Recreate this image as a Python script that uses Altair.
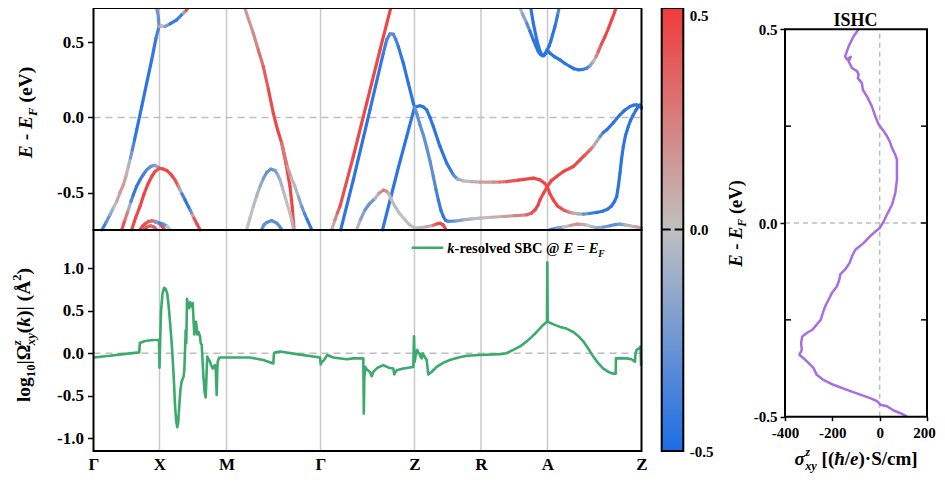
import altair as alt
import pandas as pd

FONT = "Liberation Serif"
W, H = 929, 468

# ---------------- data ----------------
K_TICKS = [0, 66, 133, 227, 321, 387.5, 454, 548]
K_NAMES = ["Γ", "X", "M", "Γ", "Z", "R", "A", "Z"]

# band structure: (k, E - E_F in eV, spin expectation)
BANDS = {
    "A": [(8.5, -0.749, -0.45), (12.5, -0.70, -0.35), (16.5, -0.649, -0.2), (20, -0.60, -0.05),
          (23.2, -0.56, 0.08), (26.5, -0.50, 0.12), (29.8, -0.449, 0.15), (32.5, -0.39, 0.1),
          (34.8, -0.327, 0.02), (37, -0.27, -0.15), (38.8, -0.216, -0.3), (41, -0.15, -0.42),
          (43.2, -0.082, -0.45), (48.2, 0.073, -0.45), (53.2, 0.229, -0.45), (58.2, 0.384, -0.45),
          (62.5, 0.529, -0.42), (65.5, 0.607, -0.35)],
    "A_up": [(65.5, 0.607, -0.32), (64.8, 0.673, -0.28), (63.5, 0.72, -0.25), (62.2, 0.76, -0.22)],
    "A_right": [(65.5, 0.607, 0.15), (68.2, 0.611, 0.1), (71.5, 0.607, -0.05), (76.5, 0.624, -0.4),
                (83.2, 0.651, -0.45), (89.8, 0.696, -0.35), (91.8, 0.708, 0.1), (93.2, 0.718, 0.4),
                (96.5, 0.76, 0.45)],
    "B": [(28.2, -0.749, 0.45), (31.5, -0.682, 0.4), (34.8, -0.616, 0.1), (37.5, -0.56, -0.3),
          (39.8, -0.516, -0.4), (43, -0.46, -0.45), (46.5, -0.416, -0.42), (50, -0.378, -0.38),
          (53.2, -0.349, -0.35), (56.5, -0.33, -0.3), (59.8, -0.32, -0.27), (62.5, -0.322, -0.2),
          (65.5, -0.333, -0.1)],
    "C": [(38.2, -0.749, 0.45), (42, -0.67, 0.45), (46.5, -0.593, 0.45), (50.5, -0.51, 0.45),
          (54.8, -0.438, 0.45), (58.5, -0.39, 0.45), (61.5, -0.36, 0.45), (66, -0.338, 0.4),
          (69.5, -0.343, 0.45), (73.2, -0.353, 0.45), (77.5, -0.38, 0.45), (81.5, -0.416, 0.45),
          (84.5, -0.455, 0.35), (86.5, -0.482, 0.1), (88.5, -0.51, -0.3), (91.5, -0.549, -0.45),
          (96.5, -0.616, -0.45), (99, -0.65, -0.1), (100.5, -0.671, 0.35), (103.5, -0.71, 0.45),
          (106.5, -0.749, 0.45)],
    "D1": [(46.5, -0.747, 0.45), (49, -0.725, 0.45), (51.5, -0.709, 0.45), (55, -0.693, 0.4),
           (58.2, -0.689, 0.35), (61.5, -0.692, 0.3), (64.5, -0.70, 0.3), (67, -0.715, 0.4),
           (69, -0.73, 0.45), (71, -0.747, 0.45)],
    "D2": [(50.5, -0.747, 0.45), (53.5, -0.73, 0.4), (57, -0.722, 0.35), (60.5, -0.73, 0.35),
           (63, -0.747, 0.4)],
    "E": [(62, -0.70, -0.1), (66, -0.704, -0.35), (70, -0.712, -0.4), (73.5, -0.725, -0.2),
          (76.5, -0.747, 0.2)],
    "F": [(149.8, 0.76, 0.15), (154.8, 0.66, 0.15), (159.8, 0.562, 0.18), (164.8, 0.45, 0.25),
          (169.8, 0.34, 0.35), (174.8, 0.19, 0.42), (179.8, 0.029, 0.45), (184, -0.08, 0.45),
          (188.2, -0.171, 0.45), (192.5, -0.31, 0.45), (196.5, -0.46, 0.45), (198.8, -0.6, 0.45),
          (200.5, -0.747, 0.45)],
    "F2": [(188.2, -0.171, 0.35), (193.8, -0.327, 0.2), (197.5, -0.40, 0.1), (201.5, -0.46, 0.0),
           (205, -0.53, -0.1), (208.2, -0.593, -0.2), (211, -0.64, -0.3), (213.8, -0.682, -0.4),
           (218.2, -0.747, -0.45)],
    "G": [(153.2, -0.747, 0.0), (156.5, -0.67, 0.0), (159.8, -0.593, 0.0), (163, -0.525, -0.05),
          (166.5, -0.46, -0.1), (170, -0.405, -0.2), (173.2, -0.367, -0.28), (177.2, -0.344, -0.3),
          (181.5, -0.353, -0.25), (184, -0.38, -0.18), (186.5, -0.416, -0.1), (189, -0.47, -0.05),
          (191.5, -0.527, 0.0), (194, -0.585, 0.0), (196.5, -0.638, 0.0), (198.5, -0.69, 0.05),
          (200, -0.747, 0.1)],
    "H": [(168.2, -0.747, -0.3), (170.5, -0.715, -0.3), (173.2, -0.70, -0.3), (178.2, -0.687, -0.32),
          (183.2, -0.704, -0.3), (186, -0.725, -0.3), (188.2, -0.747, -0.3)],
    "I": [(238.2, -0.749, 0.0), (241.5, -0.682, 0.15), (244, -0.635, 0.3), (246.5, -0.593, 0.4),
          (259.8, -0.26, 0.45), (273.2, 0.096, 0.45), (286.5, 0.451, 0.45), (298.4, 0.76, 0.45)],
    "J": [(247.2, -0.749, -0.45), (259.8, -0.416, -0.45), (276.5, 0.051, -0.45), (289.8, 0.429, -0.42),
          (293.2, 0.518, -0.38), (296.5, 0.558, -0.32), (299.8, 0.556, -0.3), (302.3, 0.52, -0.35),
          (304.8, 0.473, -0.4), (309.8, 0.362, -0.45), (314.8, 0.229, -0.45), (319.8, 0.096, -0.45),
          (321, 0.068, -0.45)],
    "K": [(289, -0.749, -0.45), (305, -0.33, -0.45), (313.2, -0.127, -0.45), (321, 0.068, -0.45)],
    "P": [(263.2, -0.747, 0.0), (267, -0.68, -0.1), (271.5, -0.616, -0.25), (276, -0.575, -0.3),
          (281.5, -0.54, -0.2), (285.5, -0.505, 0.1), (289.8, -0.485, 0.3), (292.5, -0.49, 0.25),
          (295, -0.505, 0.1), (298, -0.55, 0.0), (301.5, -0.593, -0.05), (306, -0.64, 0.0),
          (311.5, -0.682, 0.0), (316, -0.715, 0.0), (321, -0.735, 0.05), (326.5, -0.735, -0.1),
          (333, -0.728, 0.0), (339.8, -0.718, 0.2), (343, -0.71, 0.4), (346.5, -0.705, 0.45),
          (349.5, -0.715, 0.45), (352.5, -0.747, 0.45)],
    "L": [(321, 0.068, -0.45), (326.5, 0.078, -0.45), (330, 0.07, -0.45), (333.2, 0.051, -0.45),
          (336.5, 0.0, -0.45), (339.8, -0.06, -0.45), (346.5, -0.193, -0.45), (353.2, -0.304, -0.45),
          (359.8, -0.382, -0.4), (364, -0.41, -0.2), (369.8, -0.422, 0.0), (378, -0.428, 0.05),
          (386.5, -0.431, 0.1), (399.8, -0.431, 0.15), (406, -0.43, 0.25), (413.2, -0.427, 0.35),
          (425, -0.418, 0.45), (439.8, -0.404, 0.45), (446.5, -0.416, 0.45), (450.5, -0.435, 0.45),
          (453.8, -0.46, 0.45)],
    "M": [(321, 0.068, -0.3), (323.5, 0.02, -0.3), (326.5, -0.05, -0.3), (330, -0.12, -0.3),
          (333.2, -0.2, -0.28), (336.5, -0.29, -0.3), (339.8, -0.393, -0.3), (342.5, -0.48, -0.35),
          (344.8, -0.549, -0.4), (347.5, -0.62, -0.42), (349.8, -0.66, -0.45), (352, -0.685, -0.45),
          (354.8, -0.693, -0.4), (362, -0.69, -0.25), (369.8, -0.682, -0.15), (378, -0.676, -0.05),
          (386.5, -0.671, 0.0), (398, -0.665, 0.05), (409.8, -0.66, 0.1), (421, -0.655, 0.18),
          (433.2, -0.649, 0.3), (438, -0.638, 0.4), (441.5, -0.616, 0.45), (444.5, -0.585, 0.45),
          (446.5, -0.549, 0.45), (450, -0.505, 0.45), (453.8, -0.46, 0.45)],
    "L2": [(453.8, -0.46, 0.45), (458, -0.42, 0.45), (463.2, -0.393, 0.45), (469.8, -0.36, 0.45),
           (479.8, -0.327, 0.45), (486.5, -0.282, 0.45), (491.5, -0.25, 0.42), (496.5, -0.216, 0.35),
           (500, -0.19, 0.2), (503.2, -0.16, 0.0), (506.5, -0.127, -0.2), (509.8, -0.1, -0.4),
           (513.2, -0.082, -0.45), (519.8, -0.035, -0.45), (526.5, 0.018, -0.45), (531.5, 0.05, -0.45),
           (536.5, 0.073, -0.45), (540, 0.082, -0.45), (543.2, 0.084, -0.45), (546, 0.075, -0.45),
           (548, 0.062, -0.45)],
    "M2": [(453.8, -0.46, 0.45), (456.5, -0.51, 0.45), (459.8, -0.549, 0.45), (464, -0.59, 0.45),
           (469.8, -0.616, 0.45), (475, -0.63, 0.3), (479.8, -0.638, 0.15), (485, -0.643, 0.0),
           (489.8, -0.644, -0.2), (496, -0.64, -0.35), (503.2, -0.633, -0.45), (509, -0.625, -0.45),
           (514, -0.612, -0.45), (518, -0.59, -0.45), (521, -0.56, -0.45), (523.2, -0.527, -0.45),
           (525, -0.45, -0.45), (526.5, -0.371, -0.45), (528, -0.28, -0.45), (529.8, -0.193, -0.45),
           (532, -0.12, -0.45), (534.8, -0.06, -0.45), (537, -0.02, -0.45), (539.8, 0.018, -0.45),
           (542.5, 0.05, -0.45), (544.8, 0.073, -0.45), (546.5, 0.083, -0.45), (548, 0.07, -0.45)],
    "N1": [(424.8, 0.76, 0.0), (429, 0.69, -0.1), (433.2, 0.629, -0.25), (436.5, 0.575, -0.4),
           (439.8, 0.518, -0.45), (442.5, 0.475, -0.45), (444.8, 0.44, -0.45), (447, 0.42, -0.45),
           (449.5, 0.412, -0.45), (451.5, 0.425, -0.45), (453.8, 0.451, -0.45)],
    "N2": [(436.5, 0.76, -0.45), (439.8, 0.629, -0.45), (443.2, 0.518, -0.45), (446.5, 0.44, -0.45),
           (448.5, 0.415, -0.45), (450.5, 0.413, -0.45), (452.5, 0.43, -0.45), (453.8, 0.451, -0.45)],
    "N3": [(466.5, 0.76, -0.25), (464, 0.68, -0.4), (461.5, 0.607, -0.45), (459, 0.55, -0.45),
           (457.2, 0.507, -0.45), (455.5, 0.475, -0.45), (453.8, 0.451, -0.45)],
    "N4": [(453.8, 0.451, -0.45), (456.5, 0.429, -0.45), (461, 0.405, -0.45), (466.5, 0.384, -0.45),
           (471.5, 0.36, -0.45), (476.5, 0.34, -0.45), (480.5, 0.325, -0.45), (484.8, 0.318, -0.45),
           (489, 0.32, -0.45), (493.2, 0.329, -0.4), (496.5, 0.345, -0.3), (499.8, 0.373, -0.05),
           (502.5, 0.405, 0.15), (504.8, 0.44, 0.3), (508, 0.49, 0.4), (511.5, 0.54, 0.45),
           (515, 0.595, 0.45), (518.2, 0.651, 0.45), (521, 0.70, 0.45), (523.8, 0.76, 0.45)],
    "Q": [(456.5, -0.747, -0.4), (463, -0.738, -0.3), (469.8, -0.731, -0.1), (476.5, -0.72, 0.1),
          (483.2, -0.711, 0.2), (488, -0.712, 0.15), (493.2, -0.718, 0.05), (498, -0.727, -0.05),
          (503.2, -0.736, -0.1), (510, -0.73, -0.2), (516.5, -0.722, -0.3), (521.5, -0.714, -0.3),
          (526.5, -0.711, -0.25), (531.5, -0.716, -0.15), (536.5, -0.722, 0.0), (541.5, -0.728, 0.1),
          (548, -0.735, 0.15)],
}

# k-resolved spin Berry curvature: (k, log10 value)
SBC = [(0, -0.05), (16.5, -0.03), (29.8, -0.01), (45.8, 0.01), (46.3, 0.12), (51.5, 0.145),
       (59.8, 0.155), (65.5, 0.157), (66, -0.17), (66.8, 0.2), (67.5, 0.49), (69, 0.7), (70.5, 0.77),
       (72, 0.76), (73.8, 0.7), (75.2, 0.55), (76.5, 0.37), (78, 0.15), (79.2, -0.06), (80.5, -0.35),
       (81.5, -0.61), (82.7, -0.8), (83.8, -0.87), (84.8, -0.8), (85.8, -0.61), (87, -0.42),
       (88.2, -0.33), (90, -0.28), (90.8, -0.2), (91.5, 0.02), (92.2, 0.27), (92.8, 0.12), (93.5, 0.64),
       (94.5, 0.55), (95.8, 0.53), (96.5, 0.6), (97.5, 0.57), (98.5, 0.55), (99.2, 0.59), (100, 0.4),
       (100.8, 0.22), (101.5, 0.3), (102.5, 0.37), (103.2, 0.3), (103.8, 0.22), (105, 0.25),
       (106.5, 0.2), (107.2, 0.12), (108.2, 0.1), (109.8, -0.25), (111, -0.45), (112.2, -0.52),
       (113.2, -0.2), (113.8, -0.04), (115, -0.07), (116.5, -0.1), (118, -0.15), (119.2, -0.18),
       (120.5, -0.15), (121.5, -0.14), (122.3, -0.2), (123.2, -0.49), (123.8, -0.2), (124.2, -0.1),
       (125.8, -0.05), (129.8, -0.05), (156.5, -0.05), (169.8, -0.08), (179.8, -0.12), (180.5, 0.0),
       (181.5, 0.01), (186.5, 0.02), (203.2, -0.01), (226.5, -0.05), (227.2, -0.13), (228.5, -0.1),
       (229.8, -0.09), (233.8, -0.02), (239.8, -0.05), (253.2, -0.07), (259.8, -0.06), (269.8, -0.06),
       (270.3, -0.71), (270.8, -0.3), (271.8, -0.16), (273.2, -0.19), (276.5, -0.22), (278.2, -0.27),
       (279.8, -0.22), (284, -0.17), (289.8, -0.14), (295, -0.17), (299.8, -0.18), (300.8, -0.25),
       (301.5, -0.23), (303.2, -0.2), (309.8, -0.18), (315, -0.17), (319.8, -0.16), (320.5, 0.2),
       (321.2, -0.1), (322.5, 0.0), (323.8, 0.04), (325, 0.0), (325.8, 0.0), (327, -0.04),
       (328.2, -0.06), (329.2, 0.0), (330.5, -0.03), (333.2, -0.08), (334.8, -0.25), (338, -0.22),
       (343.2, -0.16), (350, -0.11), (356.5, -0.08), (365, -0.05), (373.2, -0.03), (386.5, -0.02),
       (406.5, -0.01), (413, 0.0), (419.8, 0.04), (426.5, 0.08), (433.2, 0.14), (438, 0.19),
       (443.2, 0.25), (448.5, 0.32), (453.5, 0.37), (453.8, 1.07), (454.2, 0.37), (460, 0.34),
       (466.5, 0.31), (473, 0.29), (479.8, 0.25), (485, 0.2), (489.8, 0.14), (495, 0.05),
       (499.8, -0.04), (505, -0.12), (509.8, -0.18), (515, -0.22), (519.8, -0.24), (522.2, -0.24),
       (522.5, -0.06), (533.2, -0.06), (538, -0.07), (541.5, -0.1), (542, 0.0), (543.2, 0.04),
       (545.8, 0.06), (547, 0.08), (547.6, -0.15)]

# intrinsic spin Hall conductivity: (sigma, E - E_F)
ISHC = [(-89, 0.5), (-110, 0.482), (-131, 0.456), (-146, 0.43), (-138, 0.422), (-122, 0.429),
        (-131, 0.417), (-117, 0.4), (-96, 0.392), (-89, 0.383), (-92, 0.374), (-75, 0.361),
        (-71, 0.344), (-54, 0.327), (-33, 0.301), (-18, 0.275), (-4, 0.254), (17, 0.237), (31, 0.224),
        (45, 0.207), (52, 0.194), (66, 0.176), (73, 0.164), (73, 0.146), (73, 0.112), (66, 0.077),
        (52, 0.047), (31, 0.022), (17, 0.004), (0, -0.013), (-18, -0.022), (-40, -0.034),
        (-68, -0.052), (-103, -0.069), (-117, -0.086), (-127, -0.103), (-146, -0.12), (-167, -0.133),
        (-170, -0.146), (-181, -0.164), (-202, -0.181), (-216, -0.198), (-230, -0.215),
        (-240, -0.232), (-249, -0.25), (-266, -0.262), (-283, -0.275), (-308, -0.284),
        (-327, -0.293), (-332, -0.31), (-329, -0.327), (-339, -0.34), (-322, -0.349),
        (-301, -0.361), (-280, -0.374), (-266, -0.392), (-240, -0.404), (-198, -0.417),
        (-141, -0.43), (-82, -0.443), (-40, -0.452), (-11, -0.46), (3, -0.469), (31, -0.473),
        (59, -0.484), (88, -0.491), (116, -0.5)]

# ---------------- styling ----------------
BLUE, GRAY, RED = "#1D6DE5", "#C0C0C0", "#F03B3B"
GREEN, PURPLE = "#3BAA6C", "#A66EE3"
GRID, DASH = "#C8C8C8", "#BDBDBD"

kx = alt.Scale(domain=[0, 548], range=[85.5, 633.5], nice=False, zero=False)
ey = alt.Scale(domain=[-0.75, 0.73], range=[222, 0], nice=False, zero=False)
vy = alt.Scale(domain=[-1.15, 1.45], range=[443, 222], nice=False, zero=False)
cy = alt.Scale(domain=[-0.5, 0.5], range=[443, 0], nice=False, zero=False)
sx = alt.Scale(domain=[-400, 200], range=[777, 919], nice=False, zero=False)
sy = alt.Scale(domain=[-0.5, 0.5], range=[408.7, 21.3], nice=False, zero=False)
spin = alt.Scale(domain=[-0.5, 0, 0.5], range=[BLUE, GRAY, RED], interpolate="rgb")

NUM1 = "datum.value < 0 ? '-' + format(-datum.value, '.1f') : format(datum.value, '.1f')"
NUM0 = "datum.value < 0 ? '-' + format(-datum.value, 'd') : format(datum.value, 'd')"
KEXPR = "".join(f"datum.value == {v} ? '{n}' : " for v, n in zip(K_TICKS, K_NAMES)) + "''"


def ax(**kw):
    base = dict(title=None, domain=False, grid=False, labelFont=FONT, labelFontWeight="bold",
                labelColor="black", tickColor="black", tickWidth=1.5, labelFlush=False,
                labelOverlap=False)
    base.update(kw)
    return alt.Axis(**base)


# ---------------- text runs (mixed styles) ----------------
WB = {' ': 250, '(': 333, ')': 333, '-': 333, '.': 250, '/': 278, '0': 500, '1': 500, '2': 500,
      '@': 930, '=': 570, 'A': 722, 'B': 667, 'C': 722, 'E': 667, 'F': 611, 'S': 556, 'V': 722,
      '[': 333, ']': 333, '|': 220, 'c': 444, 'd': 556, 'e': 444, 'g': 500, 'l': 278, 'm': 833,
      'o': 500, 'r': 444, 's': 389, 'v': 500, '·': 250, 'Å': 722, 'Ω': 770}
WI = {'E': 667, 'F': 667, 'k': 500, 'x': 500, 'y': 444, 'z': 389, 'e': 444, 'σ': 560, 'ħ': 556}


def run_rows(pieces, size, anchor, cross, rotated, center=True):
    items, pos = [], 0.0
    for p in pieces:
        txt, it, sc, rise = p[:4]
        adv = p[4] if len(p) > 4 else True
        fs = size * sc
        tab = WI if it else WB
        lead = len(txt) - len(txt.lstrip(" "))
        w = sum(tab.get(c, WB.get(c, 500)) for c in txt) * fs / 1000
        items.append((txt.strip(" "), it, fs, pos + 250 * lead * fs / 1000, rise * size))
        if adv:
            pos += w
    total = pos
    rows = []
    for txt, it, fs, along, rise in items:
        if rotated:
            start = anchor + total / 2 if center else anchor
            rows.append(dict(x=cross - rise, y=start - along, t=txt, fs=fs, it=it, ang=270))
        else:
            start = anchor - total / 2 if center else anchor
            rows.append(dict(x=start + along, y=cross - rise, t=txt, fs=fs, it=it, ang=0))
    return rows


EEF = [("E", True, 1, 0), (" - ", False, 1, 0), ("E", True, 1, 0), ("F", True, 0.65, -0.25),
       (" (eV)", False, 1, 0)]
OMEGA = [("log", False, 1, 0), ("10", False, 0.65, -0.28), ("|Ω", False, 1, 0),
         ("z", True, 0.65, 0.45, False), ("xy", True, 0.65, -0.28), ("(", False, 1, 0),
         ("k", True, 1, 0), (")| (Å", False, 1, 0), ("2", False, 0.65, 0.45), (")", False, 1, 0)]
SIGMA = [("σ", True, 1, 0), ("z", True, 0.65, 0.45, False), ("xy", True, 0.65, -0.28),
         (" [(", False, 1, 0), ("ħ", True, 1, 0), ("/", False, 1, 0), ("e", True, 1, 0),
         (")·S/cm]", False, 1, 0)]
LEG = [("k", True, 1, 0), ("-resolved SBC @ ", False, 1, 0), ("E", True, 1, 0),
       (" = ", False, 1, 0), ("E", True, 1, 0), ("F", True, 0.65, -0.28)]

trows = []
trows += run_rows(EEF, 19.5, 104.5, 23.7, True)
trows += run_rows(OMEGA, 19.5, 327, 22.0, True)
trows += run_rows(EEF, 18.5, 215.5, 733.7, True)
trows += run_rows(SIGMA, 19, 847.3, 457, False)
trows += run_rows(LEG, 14.5, 439.3, 245.3, False, center=False)
tdf = pd.DataFrame(trows)


def text_layer(df, italic):
    return alt.Chart(df).mark_text(align="left", baseline="alphabetic", font=FONT, fontWeight="bold",
                                   fontStyle="italic" if italic else "normal", color="black").encode(
        x=alt.X("x:Q", scale=None, axis=None),
        y=alt.Y("y:Q", scale=None, axis=None),
        text="t:N",
        size=alt.Size("fs:Q", scale=None, legend=None),
        angle=alt.Angle("ang:Q", scale=None),
    )


# ---------------- layers ----------------
seg_rows = []
for name, pts in BANDS.items():
    for a, b in zip(pts[:-1], pts[1:]):
        seg_rows.append({"band": name, "k1": a[0], "E1": a[1], "k2": b[0], "E2": b[1],
                         "s": (a[2] + b[2]) / 2})
seg = pd.DataFrame(seg_rows)

inner_k = K_TICKS[1:-1]

grid_top = alt.Chart(pd.DataFrame({"k": inner_k, "lo": -0.75, "hi": 0.73})).mark_rule(
    color=GRID, strokeWidth=1.5).encode(
    x=alt.X("k:Q", scale=kx, axis=None), y=alt.Y("lo:Q", scale=ey, axis=None), y2="hi:Q")
zero_top = alt.Chart(pd.DataFrame({"a": [0], "b": [548], "v": [0]})).mark_rule(
    color=DASH, strokeWidth=1.5, strokeDash=[7, 5]).encode(
    x=alt.X("a:Q", scale=kx, axis=None), x2="b:Q", y=alt.Y("v:Q", scale=ey, axis=None))
bands = alt.Chart(seg).mark_rule(strokeWidth=3.2, strokeCap="round").encode(
    x=alt.X("k1:Q", scale=kx, axis=None), x2="k2:Q",
    y=alt.Y("E1:Q", scale=ey, axis=ax(orient="left", offset=-85.5, values=[-0.5, 0, 0.5],
                                       labelExpr=NUM1, labelFontSize=17, tickSize=6, labelPadding=4)),
    y2="E2:Q",
    color=alt.Color("s:Q", scale=spin, legend=None))
frame_top = alt.Chart(pd.DataFrame({"a": [0], "b": [548], "lo": [-0.75], "hi": [0.73]})).mark_rect(
    fillOpacity=0, stroke="black", strokeWidth=2).encode(
    x=alt.X("a:Q", scale=kx, axis=None), x2="b:Q", y=alt.Y("lo:Q", scale=ey, axis=None), y2="hi:Q")

grid_bot = alt.Chart(pd.DataFrame({"k": inner_k, "lo": -1.15, "hi": 1.45})).mark_rule(
    color=GRID, strokeWidth=1.5).encode(
    x=alt.X("k:Q", scale=kx, axis=None), y=alt.Y("lo:Q", scale=vy, axis=None), y2="hi:Q")
zero_bot = alt.Chart(pd.DataFrame({"a": [0], "b": [548], "v": [0]})).mark_rule(
    color=DASH, strokeWidth=1.5, strokeDash=[7, 5]).encode(
    x=alt.X("a:Q", scale=kx, axis=None), x2="b:Q", y=alt.Y("v:Q", scale=vy, axis=None))
sbc_df = pd.DataFrame({"i": list(range(len(SBC))), "k": [p[0] for p in SBC], "v": [p[1] for p in SBC]})
sbc = alt.Chart(sbc_df).mark_line(color=GREEN, strokeWidth=2.6, strokeJoin="round").encode(
    x=alt.X("k:Q", scale=kx, axis=ax(orient="bottom", offset=-25, values=K_TICKS, labelExpr=KEXPR,
                                     labelFontSize=17, tickSize=0, labelPadding=5)),
    y=alt.Y("v:Q", scale=vy, axis=ax(orient="left", offset=-85.5, values=[-1, -0.5, 0, 0.5, 1],
                                     labelExpr=NUM1, labelFontSize=17, tickSize=6, labelPadding=4)),
    order="i:Q")
frame_bot = alt.Chart(pd.DataFrame({"a": [0], "b": [548], "lo": [-1.15], "hi": [1.45]})).mark_rect(
    fillOpacity=0, stroke="black", strokeWidth=2).encode(
    x=alt.X("a:Q", scale=kx, axis=None), x2="b:Q", y=alt.Y("lo:Q", scale=vy, axis=None), y2="hi:Q")
leg_line = alt.Chart(pd.DataFrame({"n": ["sbc"]})).mark_rule(color=GREEN, strokeWidth=2.6).encode(
    x=alt.value(403.7), x2=alt.value(435.3), y=alt.value(239.7))

grad = alt.Gradient(gradient="linear", x1=0, x2=0, y1=1, y2=0,
                    stops=[alt.GradientStop(color=BLUE, offset=0),
                           alt.GradientStop(color=GRAY, offset=0.5),
                           alt.GradientStop(color=RED, offset=1)])
cbar = alt.Chart(pd.DataFrame({"lo": [-0.5], "hi": [0.5]})).mark_rect(
    fill=grad, stroke="black", strokeWidth=2).encode(
    x=alt.value(653.7), x2=alt.value(675.3),
    y=alt.Y("lo:Q", scale=cy, axis=ax(orient="right", offset=-(W - 675.3), values=[-0.5, 0, 0.5],
                                      labelExpr=NUM1, labelFontSize=15, tickSize=0, labelPadding=6,
                                      labelBaseline={"condition": {"test": "datum.value > 0.4",
                                                                   "value": "top"},
                                                     "value": "middle"})),
    y2="hi:Q")
cbar_tick = alt.Chart(pd.DataFrame({"v": [0]})).mark_rule(
    color="black", strokeWidth=2, strokeDash=[9, 4]).encode(
    x=alt.value(653.7), x2=alt.value(675.3), y=alt.Y("v:Q", scale=cy, axis=None))

r_vdash = alt.Chart(pd.DataFrame({"s": [0], "lo": [-0.5], "hi": [0.5]})).mark_rule(
    color=DASH, strokeWidth=1.5, strokeDash=[5, 4]).encode(
    x=alt.X("s:Q", scale=sx, axis=None), y=alt.Y("lo:Q", scale=sy, axis=None), y2="hi:Q")
r_hdash = alt.Chart(pd.DataFrame({"a": [-400], "b": [200], "e": [0]})).mark_rule(
    color=DASH, strokeWidth=1.5, strokeDash=[5, 4]).encode(
    x=alt.X("a:Q", scale=sx, axis=None), x2="b:Q", y=alt.Y("e:Q", scale=sy, axis=None))
ishc_df = pd.DataFrame({"i": list(range(len(ISHC))), "s": [p[0] for p in ISHC], "E": [p[1] for p in ISHC]})
ishc = alt.Chart(ishc_df).mark_line(color=PURPLE, strokeWidth=2.5, strokeJoin="round").encode(
    x=alt.X("s:Q", scale=sx, axis=ax(orient="bottom", offset=408.7 - H, values=[-400, -200, 0, 200],
                                     labelExpr=NUM0, labelFontSize=15, tickSize=4, labelPadding=5,
                                     labelOffset={"condition": {"test": "datum.value > 150",
                                                                "value": -3},
                                                  "value": 0})),
    y=alt.Y("E:Q", scale=sy, axis=ax(orient="left", offset=-777, values=[-0.5, 0, 0.5],
                                     labelExpr=NUM1, labelFontSize=15, tickSize=5, labelPadding=3)),
    order="i:Q")
r_ticks = alt.Chart(pd.DataFrame({"a": [-400, -400, 175, 175, 175], "b": [-375, -375, 200, 200, 200],
                                  "e": [-0.25, 0.25, -0.25, 0, 0.25]})).mark_rule(
    color="black", strokeWidth=1.5).encode(
    x=alt.X("a:Q", scale=sx, axis=None), x2="b:Q", y=alt.Y("e:Q", scale=sy, axis=None))
r_frame = alt.Chart(pd.DataFrame({"a": [-400], "b": [200], "lo": [-0.5], "hi": [0.5]})).mark_rect(
    fillOpacity=0, stroke="black", strokeWidth=2).encode(
    x=alt.X("a:Q", scale=sx, axis=None), x2="b:Q", y=alt.Y("lo:Q", scale=sy, axis=None), y2="hi:Q")
r_title = alt.Chart(pd.DataFrame({"t": ["ISHC"]})).mark_text(
    font=FONT, fontWeight="bold", fontSize=18, color="black", align="center",
    baseline="alphabetic").encode(x=alt.value(847.5), y=alt.value(18), text="t:N")

layers = [grid_top, zero_top, bands, frame_top,
          grid_bot, zero_bot, sbc, frame_bot, leg_line,
          cbar, cbar_tick,
          r_vdash, r_hdash, ishc, r_ticks, r_frame, r_title,
          text_layer(tdf[~tdf["it"]], False), text_layer(tdf[tdf["it"]], True)]

chart = alt.layer(*layers).resolve_scale(
    x="independent", y="independent", color="independent"
).properties(
    width=W, height=H, autosize=alt.AutoSizeParams(type="none"), padding=0
).configure_view(stroke=None)

chart.save("out.html", embed_options={"renderer": "svg", "actions": False})
